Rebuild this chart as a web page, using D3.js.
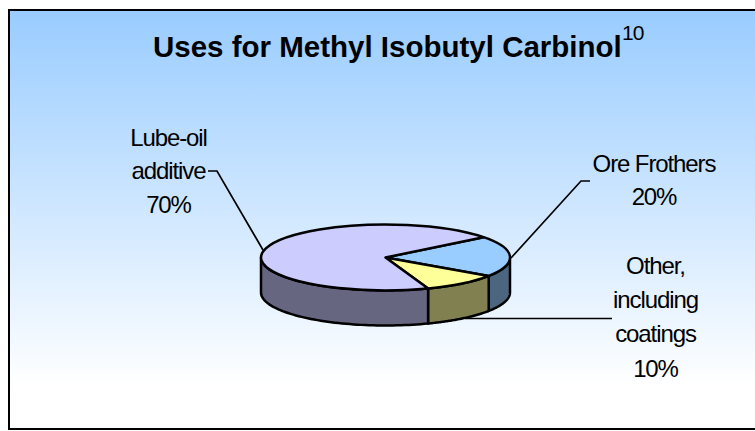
<!DOCTYPE html>
<html>
<head>
<meta charset="utf-8">
<script src="https://cdn.jsdelivr.net/npm/d3@7"></script>
<style>
  html, body { margin: 0; padding: 0; background: #fff; overflow: hidden; }
  text { font-family: "Liberation Sans", Arial, sans-serif; fill: #000; }
</style>
</head>
<body>
<div id="chart"></div>
<script>
var categories = ["Ore Frothers", "Other, including coatings", "Lube-oil additive"];
var values = [20, 10, 70];
var topColors = ["#99ccff", "#ffff99", "#ccccff"];
var sideColors = ["#4d6680", "#808050", "#666680"];
var labelLines = [
    ["Ore Frothers", "20%"],
    ["Other,", "including", "coatings", "10%"],
    ["Lube-oil", "additive", "70%"]
];

var width = 755, height = 431;
var cx = 385.5, cy = 257.5, rx = 124.5, ry = 33, depth = 35;
var startAngle = 52 * Math.PI / 180;

var svg = d3.select("#chart").append("svg")
    .attr("width", width)
    .attr("height", height)
    .style("display", "block");

var grad = svg.append("defs").append("linearGradient")
    .attr("id", "bg")
    .attr("x1", 0).attr("y1", 0).attr("x2", 0).attr("y2", 1);
grad.append("stop").attr("offset", "0%").attr("stop-color", "#99ccff");
grad.append("stop").attr("offset", "90%").attr("stop-color", "#ffffff");

svg.append("rect")
    .attr("x", 9).attr("y", 10)
    .attr("width", 760).attr("height", 419)
    .attr("fill", "url(#bg)")
    .attr("stroke", "#000")
    .attr("stroke-width", 2);

// title with the superscript footnote mark
svg.append("text")
    .attr("x", 153).attr("y", 57)
    .attr("font-size", 29.5)
    .attr("font-weight", "bold")
    .text("Uses for Methyl Isobutyl Carbinol");
svg.append("text")
    .attr("x", 622).attr("y", 40)
    .attr("font-size", 21)
    .attr("letter-spacing", -1)
    .text("10");

var pie = d3.pie()
    .sort(null)
    .startAngle(startAngle)
    .endAngle(startAngle + 2 * Math.PI);
var arcs = pie(values);

// clockwise from north, on the squashed ellipse
function px(a) { return cx + rx * Math.sin(a); }
function py(a) { return cy - ry * Math.cos(a); }

var line = d3.line();

// outer wall, only the part of each slice that faces the viewer
function wall(d) {
    var frontFrom = Math.PI / 2, frontTo = 3 * Math.PI / 2;
    var a0 = Math.max(d.startAngle, frontFrom), a1 = Math.min(d.endAngle, frontTo);
    if (a1 <= a0) return null;
    var steps = d3.range(0, 61).map(function(i) { return a0 + (a1 - a0) * i / 60; });
    var upper = steps.map(function(a) { return [px(a), py(a)]; });
    var lower = steps.slice().reverse().map(function(a) { return [px(a), py(a) + depth]; });
    return line(upper.concat(lower)) + "Z";
}

svg.append("g").selectAll("path")
    .data(arcs)
    .enter().append("path")
    .attr("d", wall)
    .attr("fill", function(d, i) { return sideColors[i]; })
    .attr("stroke", "#000")
    .attr("stroke-width", 2.5)
    .attr("stroke-linejoin", "round");

var arc = d3.arc().innerRadius(0).outerRadius(1);

svg.append("g")
    .attr("transform", "translate(" + cx + "," + cy + ") scale(" + rx + "," + ry + ")")
    .selectAll("path")
    .data(arcs)
    .enter().append("path")
    .attr("d", arc)
    .attr("fill", function(d, i) { return topColors[i]; })
    .attr("stroke", "#000")
    .attr("stroke-width", 2.5)
    .attr("stroke-linejoin", "round")
    .attr("vector-effect", "non-scaling-stroke");

// leader lines
var leaders = [
    [[511, 258], [581, 181], [590, 181]],
    [[465, 318.5], [612, 318.5]],
    [[208, 171], [217, 171], [263, 250]]
];
svg.append("g").selectAll("path")
    .data(leaders)
    .enter().append("path")
    .attr("d", line)
    .attr("fill", "none")
    .attr("stroke", "#000")
    .attr("stroke-width", 1.7);

// labels
var labelPos = [
    {x: 654, y: [172, 205]},
    {x: 655.5, y: [274, 308, 342, 377]},
    {x: 168.5, y: [146, 179, 213]}
];
labelLines.forEach(function(lines, i) {
    svg.append("g").selectAll("text")
        .data(lines)
        .enter().append("text")
        .attr("x", labelPos[i].x)
        .attr("y", function(d, j) { return labelPos[i].y[j]; })
        .attr("text-anchor", "middle")
        .attr("font-size", 24)
        .attr("letter-spacing", -1.1)
        .text(function(d) { return d; });
});
</script>
</body>
</html>
